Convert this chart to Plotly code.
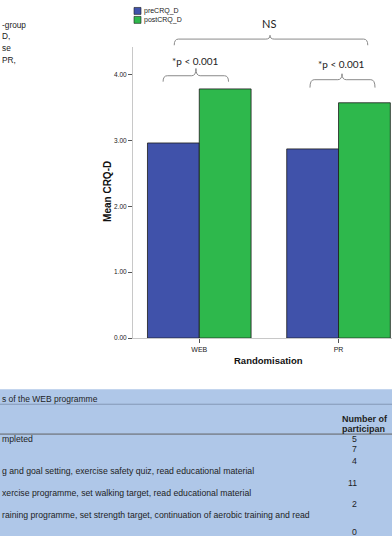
import plotly.graph_objects as go

# ---------------- data ----------------
categories = ["WEB", "PR"]
pre_crq_d = [2.96, 2.87]
post_crq_d = [3.78, 3.57]
y_ticks = [0, 1, 2, 3, 4]
y_tick_labels = ["0.00", "1.00", "2.00", "3.00", "4.00"]
series_names = ["preCRQ_D", "postCRQ_D"]
within_label = "*p < 0.001"
between_label = "NS"

left_text = ["-group", "D,", "se", "PR,"]
table_title = "s of the WEB programme"
table_header = ["Number of", "participan"]
table_rows_text = [
    "mpleted",
    "g and goal setting, exercise safety quiz, read educational material",
    "xercise programme, set walking target, read educational material",
    "raining programme, set strength target, continuation of aerobic training and read",
]
table_numbers = ["5", "7", "4", "11", "2", "0"]

# ---------------- style ----------------
W, H = 392, 539
BLUE = "rgb(64,82,170)"
GREEN = "rgb(46,184,76)"
TABLE_BG = "rgb(175,199,232)"


def px(x):
    return x / W


def py(y):
    return 1 - y / H


x_idx = list(range(len(categories)))

fig = go.Figure()
fig.add_bar(x=x_idx, y=pre_crq_d, name=series_names[0], marker_color=BLUE,
            marker_line=dict(color="#1c1c1c", width=0.8), showlegend=False)
fig.add_bar(x=x_idx, y=post_crq_d, name=series_names[1], marker_color=GREEN,
            marker_line=dict(color="#1c1c1c", width=0.8), showlegend=False)

shapes = []
annotations = []

# table background & rules
shapes.append(dict(type="rect", xref="paper", yref="paper", x0=0, x1=1,
                   y0=0, y1=py(391.5), fillcolor=TABLE_BG, line_width=0, layer="below"))
shapes.append(dict(type="line", xref="paper", yref="paper", x0=0, x1=1,
                   y0=py(406.5), y1=py(406.5), line=dict(color="rgb(120,140,170)", width=0.8)))
shapes.append(dict(type="line", xref="paper", yref="paper", x0=0, x1=1,
                   y0=py(436.5), y1=py(436.5), line=dict(color="rgb(130,140,155)", width=1.8)))


def brace(xl, xr, xc, y_line, y_end, y_tip, yref="y"):
    d = 0.03
    path = (f"M {xl},{y_end} Q {xl},{y_line} {xl + d},{y_line} "
            f"L {xc - d},{y_line} Q {xc},{y_line} {xc},{y_tip} "
            f"Q {xc},{y_line} {xc + d},{y_line} "
            f"L {xr - d},{y_line} Q {xr},{y_line} {xr},{y_end}")
    return dict(type="path", xref="x", yref=yref, path=path,
                line=dict(color="#8a8a8a", width=1))


# within-group braces (data coords)
shapes.append(brace(-0.26, 0.21, -0.024, 3.98, 3.89, 4.09))
shapes.append(brace(1 - 0.205, 1 + 0.262, 1 + 0.025, 3.92, 3.80, 4.01))
annotations.append(dict(x=-0.03, y=4.21, xref="x", yref="y", text=within_label,
                        showarrow=False, font=dict(family="Lato", size=10, color="#222")))
annotations.append(dict(x=1 + 0.022, y=4.16, xref="x", yref="y", text=within_label,
                        showarrow=False, font=dict(family="Lato", size=10, color="#222")))
# between-group brace (above plot area)
shapes.append(brace(-0.18, 1.21, 0.508, py(39.3), py(45.5), py(35.5), yref="paper"))
annotations.append(dict(x=0.5, y=py(24), xref="x", yref="paper", text=between_label,
                        showarrow=False, yanchor="middle",
                        font=dict(family="Lato", size=11, color="#222")))

# legend (manual)
for i, (nm, col) in enumerate(zip(series_names, [BLUE, GREEN])):
    yc = 11 + i * 9
    shapes.append(dict(type="rect", xref="paper", yref="paper",
                       x0=px(134), x1=px(141), y0=py(yc + 3.5), y1=py(yc - 3.5),
                       fillcolor=col, line=dict(color="#1c1c1c", width=0.6)))
    annotations.append(dict(x=px(142), y=py(yc), xref="paper", yref="paper", text=nm,
                            xanchor="left", yanchor="middle", showarrow=False,
                            font=dict(family="Liberation Sans", size=7, color="#222")))

# axis titles
annotations.append(dict(x=px(108), y=py(192), xref="paper", yref="paper",
                        text="<b>Mean CRQ-D</b>", textangle=-90, showarrow=False,
                        xanchor="center", yanchor="middle",
                        font=dict(family="Liberation Sans", size=10, color="#111")))
annotations.append(dict(x=px(268.5), y=py(363), xref="paper", yref="paper",
                        text="<b>Randomisation</b>", showarrow=False,
                        xanchor="center", yanchor="middle",
                        font=dict(family="Liberation Sans", size=9.5, color="#111")))

# left page text
for i, t in enumerate(left_text):
    annotations.append(dict(x=0, y=py(25 + i * 11.7), xref="paper", yref="paper", text=t,
                            xanchor="left", yanchor="middle", showarrow=False,
                            font=dict(family="Liberation Sans", size=8.3, color="#222")))

# table text
tfont = dict(family="Liberation Sans", size=8.7, color="#1e1e1e")
annotations.append(dict(x=0, y=py(401), xref="paper", yref="paper", text=table_title,
                        xanchor="left", yanchor="middle", showarrow=False,
                        font=dict(family="Liberation Sans", size=8.5, color="#1e1e1e")))
for i, t in enumerate(table_header):
    annotations.append(dict(x=px(340), y=py(421.5 + i * 10), xref="paper", yref="paper",
                            text=f"<b>{t}</b>", xanchor="left", yanchor="middle",
                            showarrow=False,
                            font=dict(family="Liberation Sans", size=9, color="#1e1e1e")))
row_y = [441.3, 474, 496, 518.3]
for t, yy in zip(table_rows_text, row_y):
    annotations.append(dict(x=0, y=py(yy), xref="paper", yref="paper", text=t,
                            xanchor="left", yanchor="middle", showarrow=False, font=tfont))
num_y = [441.3, 451.5, 463.3, 485.3, 507.3, 534.5]
for t, yy in zip(table_numbers, num_y):
    annotations.append(dict(x=px(358.5), y=py(yy), xref="paper", yref="paper", text=t,
                            xanchor="right", yanchor="middle", showarrow=False, font=tfont))

fig.update_layout(
    width=W, height=H, margin=dict(l=0, r=0, t=0, b=0),
    paper_bgcolor="white", plot_bgcolor="white",
    barmode="group", bargap=0.256, bargroupgap=0,
    shapes=shapes, annotations=annotations,
    xaxis=dict(domain=[px(133), 1], range=[-0.476, 1.384], tickmode="array",
               tickvals=x_idx, ticktext=categories, showgrid=False, zeroline=False,
               showline=True, linecolor="#c8c8c8", linewidth=1,
               ticks="outside", ticklen=4, tickcolor="#555", tickwidth=1,
               tickfont=dict(family="Liberation Sans", size=7, color="#222")),
    yaxis=dict(domain=[py(340), py(47)], range=[0, 4.42], tickmode="array",
               tickvals=y_ticks, ticktext=y_tick_labels, showgrid=False, zeroline=False,
               showline=True, linecolor="#c8c8c8", linewidth=1,
               ticks="outside", ticklen=4, tickcolor="#555", tickwidth=1,
               tickfont=dict(family="Liberation Sans", size=6.5, color="#222")),
    font=dict(family="Liberation Sans"),
)

fig.write_html("out.html")
